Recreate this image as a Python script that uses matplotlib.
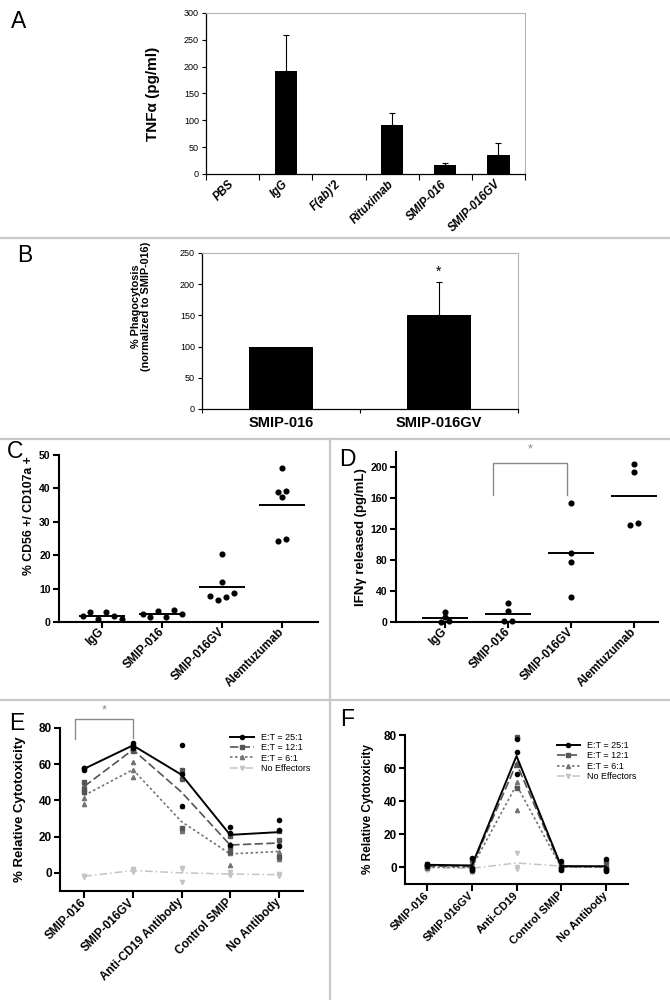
import numpy as np
import matplotlib
matplotlib.use("Agg")
import matplotlib.pyplot as plt
from matplotlib import font_manager
from matplotlib.lines import Line2D

# ---- data ----
tnf_labels = ["PBS", "IgG", "F(ab)'2", "Rituximab", "SMIP-016", "SMIP-016GV"]
tnf_mean = [0, 192, 0, 91, 16, 36]
tnf_err = [0, 67, 0, 23, 4, 22]

phago_labels = ["SMIP-016", "SMIP-016GV"]
phago_mean = [100, 150]
phago_err = [0, 53]

cd107_labels = ["IgG", "SMIP-016", "SMIP-016GV", "Alemtuzumab"]
cd107_igg = [1.8, 3.0, 0.8, 3.0, 1.8, 0.9]
cd107_smip = [2.4, 1.4, 3.4, 1.5, 3.5, 2.4]
cd107_gv = [20.3, 11.9, 7.8, 6.6, 7.4, 8.6]
cd107_alem = [46.2, 39.0, 39.3, 37.3, 24.2, 24.8]

ifn_labels = ["IgG", "SMIP-016", "SMIP-016GV", "Alemtuzumab"]
ifn_igg = [6.5, 12.5, 0.5, 1.0]
ifn_smip = [25.0, 14.0, 1.5, 1.5]
ifn_gv = [153.5, 89.5, 77.8, 32.3]
ifn_alem = [203.4, 193.5, 124.7, 126.9]

e_labels = ["SMIP-016", "SMIP-016GV", "Anti-CD19 Antibody", "Control SMIP", "No Antibody"]
e_et25_mean = [57.5, 70.4, 54.2, 21.0, 22.5]
e_et25_reps = [[57.9, 56.6, 58.0], [71.9, 70.4, 69.0], [70.8, 54.6, 37.2], [25.5, 22.0, 15.5], [29.3, 23.5, 14.8]]
e_et12_mean = [47.8, 68.0, 44.6, 15.4, 16.5]
e_et12_reps = [[50.1, 46.1, 44.6], [68.6, 67.3, 68.2], [57.0, 52.0, 24.9], [20.4, 14.5, 11.5], [22.9, 17.9, 9.0]]
e_et6_mean = [42.8, 57.0, 28.3, 10.5, 11.8]
e_et6_reps = [[41.3, 38.2, 48.9], [61.2, 57.0, 52.8], [36.8, 24.5, 23.4], [11.2, 4.4, 15.9], [11.5, 7.4, 16.5]]
e_none_mean = [-1.9, 1.3, 0.0, -0.6, -1.0]
e_none_reps = [[-2.5, -1.5, -1.7], [2.0, 0.5, 1.4], [2.2, -5.1, 2.9], [0.6, -1.2, -1.2], [-1.0, -0.5, -1.5]]

f_labels = ["SMIP-016", "SMIP-016GV", "Anti-CD19", "Control SMIP", "No Antibody"]
f_et25_mean = [1.6, 1.2, 67.3, 0.8, 0.7]
f_et25_reps = [[2.2, 1.5, 1.1], [5.8, -0.5, -1.7], [77.4, 69.7, 56.7], [3.9, -0.2, -1.3], [5.4, -1.0, -2.2]]
f_et12_mean = [0.8, 0.6, 62.8, 0.4, 0.5]
f_et12_reps = [[1.8, 0.3, 0.3], [4.4, -1.5, -1.1], [78.8, 61.6, 48.0], [2.2, 0.0, -1.0], [3.4, -1.3, -0.6]]
f_et6_mean = [0.2, 0.1, 49.8, 0.2, 0.3]
f_et6_reps = [[1.0, 0.2, -0.6], [3.5, -1.0, -2.2], [63.0, 51.7, 34.8], [1.5, 0.2, -1.1], [2.5, -0.6, -1.0]]
f_none_mean = [-0.2, -0.5, 2.7, 0.8, 0.6]
f_none_reps = [[0.6, -0.5, -1.7], [0.4, -0.5, -2.5], [8.5, 0.3, -0.8], [1.8, 0.5, 0.1], [1.4, 0.5, -0.1]]

et_names = ["E:T = 25:1", "E:T = 12:1", "E:T = 6:1", "No Effectors"]

# ---- fonts ----
names = {f.name for f in font_manager.fontManager.ttflist}
SANS = "Liberation Sans" if "Liberation Sans" in names else "DejaVu Sans"
NARROW = "Liberation Sans Narrow" if "Liberation Sans Narrow" in names else SANS
plt.rcParams["font.family"] = SANS

W, H = 670, 1000
fig = plt.figure(figsize=(6.7, 10), dpi=100)
SEP = "#c8c8c8"
BRACKET = "#8a8a8a"


def box(l, t, r, b):
    # axes from pixel box (left, top, right, bottom)
    return fig.add_axes([l / W, 1 - b / H, (r - l) / W, (b - t) / H])


def hline(y, x0=0, x1=W):
    fig.add_artist(Line2D([x0 / W, x1 / W], [1 - y / H, 1 - y / H], color=SEP, lw=1.6))


def vline(x, y0, y1):
    fig.add_artist(Line2D([x / W, x / W], [1 - y0 / H, 1 - y1 / H], color=SEP, lw=1.6))


def letter(s, x, y):
    fig.text(x / W, 1 - y / H, s, fontsize=16.5, ha="center", va="center")


def swarm_offsets(vals, thr, dx):
    # dots with close values sit side by side, like Prism
    vals = np.asarray(vals, float)
    order = np.argsort(vals, kind="stable")
    offs = np.zeros(len(vals))
    groups = [[order[0]]]
    for a, b in zip(order[:-1], order[1:]):
        if vals[b] - vals[a] < thr:
            groups[-1].append(b)
        else:
            groups.append([b])
    for g in groups:
        g = sorted(g)
        n = len(g)
        for k, idx in enumerate(g):
            offs[idx] = (k - (n - 1) / 2) * dx
    return offs


def excel_style(ax):
    for s in ("top", "right"):
        ax.spines[s].set_color("#b4b4b4")
    for s in ("left", "bottom"):
        ax.spines[s].set_linewidth(0.9)
    ax.tick_params(axis="y", length=3, width=0.8, labelsize=6.5, pad=2)
    for t in ax.get_yticklabels():
        t.set_family(NARROW)


def prism_style(ax, ysize=7.5):
    ax.spines["top"].set_visible(False)
    ax.spines["right"].set_visible(False)
    for s in ("left", "bottom"):
        ax.spines[s].set_linewidth(1.5)
    ax.tick_params(axis="both", length=4, width=1.5, pad=2)
    ax.tick_params(axis="y", labelsize=ysize)
    for t in ax.get_yticklabels():
        t.set_fontweight("bold")


# ---- separators ----
hline(238)
hline(439)
vline(330, 439, 1000)
hline(700)

# ---- A ----
axA = box(206, 13, 525, 174)
xa = np.arange(len(tnf_labels))
axA.bar(xa, tnf_mean, width=0.42, color="black")
has = np.array(tnf_err) > 0
axA.errorbar(xa[has], np.array(tnf_mean)[has], yerr=[np.zeros(has.sum()), np.array(tnf_err)[has]],
             fmt="none", ecolor="black", elinewidth=0.8, capsize=2.5, capthick=0.8)
axA.set_xlim(-0.5, len(tnf_labels) - 0.5)
axA.set_ylim(0, 300)
axA.set_yticks(np.arange(0, 301, 50))
axA.set_xticks(xa, tnf_labels, rotation=45, ha="right", va="center", rotation_mode="anchor",
               fontsize=8.3, fontweight="bold", fontstyle="italic")
axA.set_xticks(np.arange(-0.5, len(tnf_labels), 1), minor=True)
axA.tick_params(axis="x", which="major", length=0, pad=6)
axA.tick_params(axis="x", which="minor", length=4, width=0.8)
excel_style(axA)
axA.set_ylabel("TNFα (pg/ml)", fontsize=11, fontweight="bold")
axA.yaxis.set_label_coords(-0.145, 0.5)
letter("A", 19, 22)

# ---- B ----
axB = box(202, 253, 518, 409)
xb = np.arange(len(phago_labels))
axB.bar(xb, phago_mean, width=0.4, color="black")
axB.errorbar(xb[1:], phago_mean[1:], yerr=[[0], phago_err[1:]], fmt="none", ecolor="black",
             elinewidth=0.8, capsize=2.5, capthick=0.8)
axB.text(xb[1], phago_mean[1] + phago_err[1] + 17, "*", ha="center", va="center", fontsize=10)
axB.set_xlim(-0.5, len(phago_labels) - 0.5)
axB.set_ylim(0, 250)
axB.set_yticks(np.arange(0, 251, 50))
axB.set_xticks(xb, phago_labels, fontsize=10.5, fontweight="bold")
axB.set_xticks(np.arange(-0.5, len(phago_labels), 1), minor=True)
axB.tick_params(axis="x", which="major", length=0, pad=5)
axB.tick_params(axis="x", which="minor", length=3, width=0.8)
excel_style(axB)
axB.set_ylabel("% Phagocytosis\n(normalized to SMIP-016)", fontsize=7.8, fontweight="bold", linespacing=1.1)
axB.yaxis.set_label_coords(-0.16, 0.66)
letter("B", 25, 256)

# ---- C ----
axC = box(59, 455, 318, 622)
for i, vals in enumerate([cd107_igg, cd107_smip, cd107_gv, cd107_alem]):
    offs = swarm_offsets(vals, 1.4, 0.13)
    axC.plot(i + offs, vals, "o", color="black", ms=3.4, clip_on=False)
    axC.hlines(np.mean(vals), i - 0.38, i + 0.38, color="black", lw=1.4)
axC.set_xlim(-0.72, 3.6)
axC.set_ylim(0, 50)
axC.set_yticks(np.arange(0, 51, 10))
axC.set_xticks(range(4), cd107_labels, rotation=45, ha="right", va="center", rotation_mode="anchor",
               fontsize=8.5, fontweight="bold")
prism_style(axC)
axC.set_ylabel("% CD56 +/ CD107a +", fontsize=8.8, fontweight="bold")
axC.yaxis.set_label_coords(-0.092, 0.635)
letter("C", 15, 451)

# ---- D ----
axD = box(396, 452, 658, 622)
for i, vals in enumerate([ifn_igg, ifn_smip, ifn_gv, ifn_alem]):
    offs = swarm_offsets(vals, 4.0, 0.13)
    axD.plot(i + offs, vals, "o", color="black", ms=3.4, clip_on=False)
    axD.hlines(np.mean(vals), i - 0.37, i + 0.37, color="black", lw=1.4)
axD.plot([0.76, 0.76, 1.94, 1.94], [163, 205, 205, 163], color=BRACKET, lw=1, clip_on=False)
axD.text(1.35, 222, "*", color=BRACKET, ha="center", va="center", fontsize=9)
axD.set_xlim(-0.78, 3.38)
axD.set_ylim(0, 219)
axD.set_yticks(np.arange(0, 201, 40))
axD.set_xticks(range(4), ifn_labels, rotation=45, ha="right", va="center", rotation_mode="anchor",
               fontsize=8.5, fontweight="bold")
prism_style(axD)
axD.set_ylabel("IFNγ released (pg/mL)", fontsize=9.5, fontweight="bold")
axD.yaxis.set_label_coords(-0.11, 0.5)
letter("D", 347, 459)

# ---- E / F ----
styles = [
    dict(color="black", ls="-", marker="o", lw=1.4),
    dict(color="#555555", ls=(0, (5, 2)), marker="s", lw=1.2),
    dict(color="#747474", ls=(0, (1.5, 1.5)), marker="^", lw=1.2),
    dict(color="#c4c4c4", ls=(0, (5, 2, 1, 2)), marker="v", lw=1.1),
]


def cyto_panel(ax, labels, means, reps, leg_xy, ylabel_x, xsize):
    x = np.arange(len(labels))
    for k in (3, 2, 1, 0):
        st = styles[k]
        ax.plot(x, means[k], color=st["color"], ls=st["ls"], lw=st["lw"], zorder=3 + (3 - k))
        for i, r in enumerate(reps[k]):
            ax.plot([i] * len(r), r, st["marker"], color=st["color"], ms=3, ls="none",
                    clip_on=False, zorder=3 + (3 - k))
    handles = [Line2D([], [], color=s["color"], ls=s["ls"], lw=s["lw"], marker=s["marker"], ms=3)
               for s in styles]
    ax.legend(handles, et_names, loc="upper left", bbox_to_anchor=leg_xy, frameon=False,
              borderpad=0, borderaxespad=0, handlelength=2.6, handletextpad=0.8, labelspacing=0.15,
              prop=dict(family=NARROW, size=6.5))
    ax.set_xlim(-0.5, len(labels) - 0.5)
    ax.set_ylim(-10, 80)
    ax.set_yticks(np.arange(0, 81, 20))
    ax.set_xticks(x, labels, rotation=45, ha="right", va="center", rotation_mode="anchor",
                  fontsize=xsize, fontweight="bold")
    prism_style(ax, ysize=8.5)
    ax.tick_params(axis="x", length=5)
    ax.set_ylabel("% Relative Cytotoxicity", fontsize=9.5, fontweight="bold")
    ax.yaxis.set_label_coords(ylabel_x, 0.5)


axE = box(60, 728, 303, 891)
cyto_panel(axE, e_labels,
           [e_et25_mean, e_et12_mean, e_et6_mean, e_none_mean],
           [e_et25_reps, e_et12_reps, e_et6_reps, e_none_reps],
           (0.70, 0.97), -0.14, 8.5)
axE.plot([-0.2, -0.2, 1.0, 1.0], [74, 85.2, 85.2, 74.5], color=BRACKET, lw=1, clip_on=False)
axE.text(0.41, 89.5, "*", color=BRACKET, ha="center", va="center", fontsize=9)
letter("E", 17, 723)

axF = box(405, 735, 628, 884)
cyto_panel(axF, f_labels,
           [f_et25_mean, f_et12_mean, f_et6_mean, f_none_mean],
           [f_et25_reps, f_et12_reps, f_et6_reps, f_none_reps],
           (0.68, 0.96), -0.14, 8)
axF.yaxis.label.set_fontsize(8.5)
letter("F", 347, 719)

fig.savefig("out.png", dpi=100)
